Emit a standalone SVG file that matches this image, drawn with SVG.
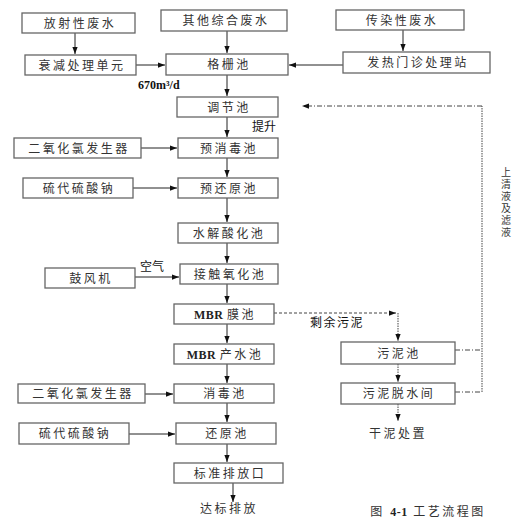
<svg xmlns="http://www.w3.org/2000/svg" width="525" height="528" viewBox="0 0 525 528">
<style>
.b{fill:#fff;stroke:#666;stroke-width:1.3}
.t{font-family:"Liberation Serif","Noto Sans CJK SC",serif;font-size:12px;fill:#333;letter-spacing:2.5px;text-anchor:middle}
.l{font-family:"Liberation Serif","Noto Sans CJK SC",serif;font-size:12px;fill:#111}
.m{font-weight:bold;letter-spacing:0.5px;fill:#222}
.v{font-family:"Liberation Serif","Noto Sans CJK SC",serif;font-size:10px;fill:#333;text-anchor:middle}
.c{stroke:#222;stroke-width:1;fill:none}
.dd{stroke:#444;stroke-width:1;fill:none;stroke-dasharray:5 2 1 2}
.dt{stroke:#444;stroke-width:1;fill:none;stroke-dasharray:1.5 1}
.ds{stroke:#444;stroke-width:1;fill:none;stroke-dasharray:3 2}
</style>
<defs>
<marker id="a" viewBox="0 0 8 6" refX="8" refY="3" markerWidth="7" markerHeight="5.5" orient="auto" markerUnits="userSpaceOnUse">
<path d="M0,0L8,3L0,6z" fill="#111"/>
</marker>
</defs>
<rect width="525" height="528" fill="#fff"/>
<g id="connectors">
<path class="c" d="M75,33V54" marker-end="url(#a)"/>
<path class="c" d="M227,31V53" marker-end="url(#a)"/>
<path class="c" d="M403,30V51" marker-end="url(#a)"/>
<path class="c" d="M136,65H165" marker-end="url(#a)"/>
<path class="c" d="M343,65H289" marker-end="url(#a)"/>
<path class="c" d="M227,75V96" marker-end="url(#a)"/>
<path class="c" d="M227,117V137" marker-end="url(#a)"/>
<path class="c" d="M141,148H177" marker-end="url(#a)"/>
<path class="c" d="M227,158V177" marker-end="url(#a)"/>
<path class="c" d="M133,188H177" marker-end="url(#a)"/>
<path class="c" d="M227,198V222" marker-end="url(#a)"/>
<path class="c" d="M227,243V263" marker-end="url(#a)"/>
<path class="c" d="M135,277H179" marker-end="url(#a)"/>
<path class="c" d="M227,284V303" marker-end="url(#a)"/>
<path class="c" d="M227,324V343" marker-end="url(#a)"/>
<path class="c" d="M227,364V383" marker-end="url(#a)"/>
<path class="c" d="M145,394H173" marker-end="url(#a)"/>
<path class="c" d="M227,403V422" marker-end="url(#a)"/>
<path class="c" d="M129,434H175" marker-end="url(#a)"/>
<path class="c" d="M227,444V462" marker-end="url(#a)"/>
<path class="c" d="M233,483V502" marker-end="url(#a)"/>
<path class="ds" d="M274,313H396" marker-end="url(#a)"/>
<path class="dt" d="M398,313V341" marker-end="url(#a)"/>
<path class="dt" d="M398,364V382" marker-end="url(#a)"/>
<path class="dt" d="M398,404V421" marker-end="url(#a)"/>
<path class="dd" d="M455,350H482"/>
<path class="dd" d="M455,392H482"/>
<path class="dt" d="M482,392V106"/>
<path class="dd" d="M482,106H302" marker-end="url(#a)"/>
</g>
<g id="n1"><rect class="b" x="22" y="13" width="113" height="20"/><text class="t" x="80" y="27.5">放射性废水</text></g>
<g id="n2"><rect class="b" x="161" y="10" width="126" height="21"/><text class="t" x="226" y="25">其他综合废水</text></g>
<g id="n3"><rect class="b" x="336" y="10" width="128" height="20"/><text class="t" x="402" y="24.5">传染性废水</text></g>
<g id="n4"><rect class="b" x="25" y="55" width="111" height="20"/><text class="t" x="82" y="69.5">衰减处理单元</text></g>
<g id="n5"><rect class="b" x="166" y="54" width="122" height="21"/><text class="t" x="229" y="69">格栅池</text></g>
<g id="n6"><rect class="b" x="343" y="52" width="147" height="21"/><text class="t" x="418" y="67">发热门诊处理站</text></g>
<g id="n7"><rect class="b" x="177" y="97" width="101" height="20"/><text class="t" x="229" y="111.5">调节池</text></g>
<g id="n8"><rect class="b" x="14" y="138" width="127" height="20"/><text class="t" x="79" y="152.5">二氧化氯发生器</text></g>
<g id="n9"><rect class="b" x="178" y="138" width="100" height="20"/><text class="t" x="229" y="152.5">预消毒池</text></g>
<g id="n10"><rect class="b" x="23" y="178" width="110" height="20"/><text class="t" x="79" y="192.5">硫代硫酸钠</text></g>
<g id="n11"><rect class="b" x="178" y="178" width="100" height="20"/><text class="t" x="229" y="192.5">预还原池</text></g>
<g id="n12"><rect class="b" x="178" y="223" width="100" height="20"/><text class="t" x="229" y="237.5">水解酸化池</text></g>
<g id="n13"><rect class="b" x="45" y="268" width="90" height="20"/><text class="t" x="91" y="282.5">鼓风机</text></g>
<g id="n14"><rect class="b" x="180" y="264" width="98" height="20"/><text class="t" x="230" y="278.5">接触氧化池</text></g>
<g id="n15"><rect class="b" x="174" y="304" width="100" height="20"/><text class="t" x="225" y="318.5"><tspan class="m">MBR </tspan>膜池</text></g>
<g id="n16"><rect class="b" x="174" y="344" width="100" height="20"/><text class="t" x="225" y="358.5"><tspan class="m">MBR </tspan>产水池</text></g>
<g id="n17"><rect class="b" x="18" y="384" width="127" height="19"/><text class="t" x="83" y="398">二氧化氯发生器</text></g>
<g id="n18"><rect class="b" x="174" y="384" width="100" height="19"/><text class="t" x="225" y="398">消毒池</text></g>
<g id="n19"><rect class="b" x="19" y="423" width="110" height="21"/><text class="t" x="75" y="438">硫代硫酸钠</text></g>
<g id="n20"><rect class="b" x="176" y="423" width="100" height="21"/><text class="t" x="227" y="438">还原池</text></g>
<g id="n21"><rect class="b" x="174" y="463" width="109" height="20"/><text class="t" x="230" y="477.5">标准排放口</text></g>
<g id="n22"><rect class="b" x="341" y="342" width="114" height="22"/><text class="t" x="399" y="357.5">污泥池</text></g>
<g id="n23"><rect class="b" x="341" y="383" width="114" height="21"/><text class="t" x="399" y="398">污泥脱水间</text></g>
<g id="labels">
<text class="l" x="138" y="89" font-size="11" font-weight="bold">670m³/d</text>
<text class="l" x="252" y="131">提升</text>
<text class="l" x="140" y="271">空气</text>
<text class="l" x="310" y="327" letter-spacing="1.5">剩余污泥</text>
<text class="t" x="229" y="513">达标排放</text>
<text class="t" x="398" y="437.5">干泥处置</text>
<text class="t" x="428" y="516" letter-spacing="1.5">图 <tspan class="m">4-1</tspan> 工艺流程图</text>
<text class="v" x="506" y="176">上</text>
<text class="v" x="506" y="188">清</text>
<text class="v" x="506" y="200">液</text>
<text class="v" x="506" y="212">及</text>
<text class="v" x="506" y="224">滤</text>
<text class="v" x="506" y="236">液</text>
</g>
</svg>
